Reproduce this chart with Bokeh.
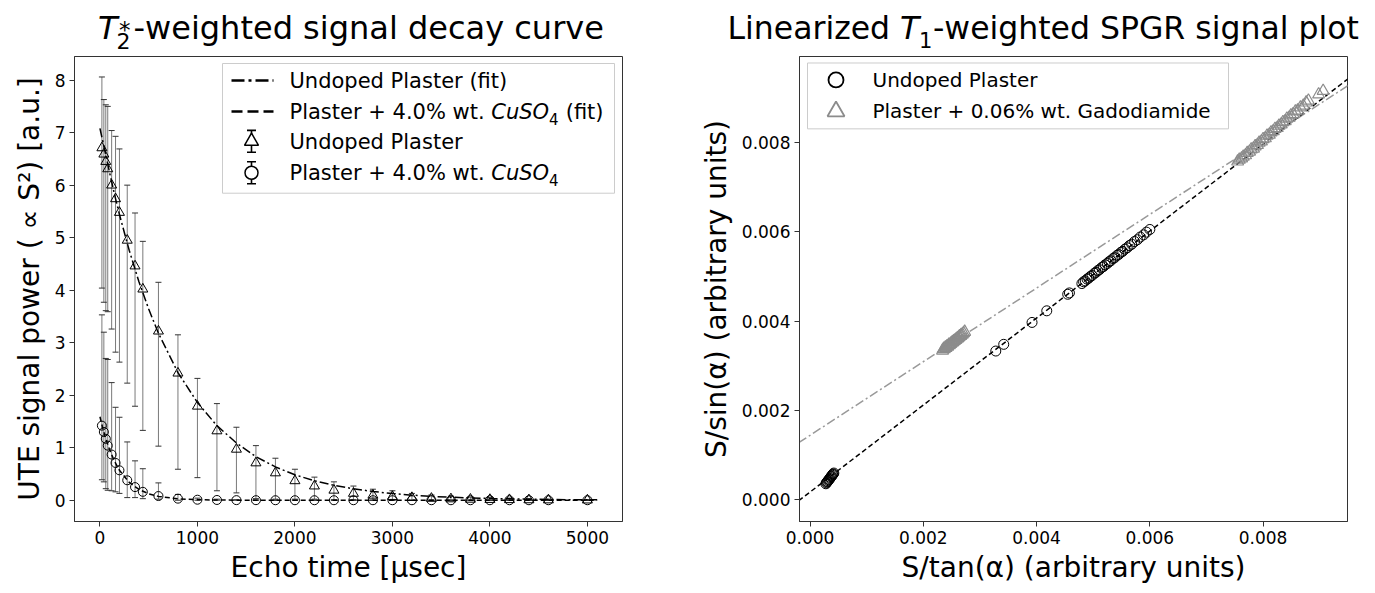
from bokeh.plotting import figure
from bokeh.layouts import row, column
from bokeh.models import (ColumnDataSource, Whisker, TeeHead, FixedTicker, PrintfTickFormatter, Range1d)
from bokeh.core.properties import value
from bokeh.embed import file_html
from bokeh.resources import INLINE

FONT = "DejaVu Sans"

# ---------------- Left panel data (T2* decay) ----------------
echo_time = [20, 40, 60, 80, 120, 160, 200, 280, 360, 440, 600, 800, 1000, 1200, 1400, 1600,
             1800, 2000, 2200, 2400, 2600, 2800, 3000, 3200, 3400, 3600, 3800, 4000, 4200, 4400, 4600, 5000]
undoped_mean = [6.71, 6.59, 6.45, 6.31, 6.00, 5.74, 5.48, 4.95, 4.46, 4.02, 3.22, 2.42, 1.79, 1.32, 0.97, 0.71,
                0.52, 0.37, 0.27, 0.19, 0.13, 0.095, 0.07, 0.05, 0.035, 0.025, 0.018, 0.013, 0.010, 0.007, 0.005, 0.003]
undoped_upper = [8.06, 7.63, 7.53, 7.50, 7.04, 6.93, 6.69, 6.00, 5.47, 4.93, 4.15, 3.15, 2.32, 1.84, 1.39, 1.04,
                 0.80, 0.59, 0.44, 0.35, 0.27, 0.21, 0.18, 0.13, 0.10, 0.08, 0.06, 0.05, 0.04, 0.03, 0.02, 0.01]
undoped_lower = [4.04, 3.77, 3.61, 3.59, 3.26, 2.82, 2.63, 2.23, 1.79, 1.33, 1.03, 0.59, 0.43, 0.18, 0.14, 0.03,
                 0.02, 0.02, 0.02, 0.01, 0.01, 0.0, 0.0, 0.0, 0.0, 0.0, 0.0, 0.0, 0.0, 0.0, 0.0, 0.0]
cuso4_mean = [1.42, 1.30, 1.17, 1.04, 0.87, 0.71, 0.57, 0.38, 0.25, 0.16, 0.08, 0.03, 0.01, 0.005, 0.002, 0.001,
              0.0, 0.0, 0.0, 0.0, 0.0, 0.0, 0.0, 0.0, 0.0, 0.0, 0.0, 0.0, 0.0, 0.0, 0.0, 0.0]
cuso4_upper = [3.53, 3.20, 2.70, 2.68, 2.24, 1.77, 1.58, 1.11, 0.75, 0.60, 0.33, 0.11, 0.04, 0.02, 0.01, 0.005,
               0.0, 0.0, 0.0, 0.0, 0.0, 0.0, 0.0, 0.0, 0.0, 0.0, 0.0, 0.0, 0.0, 0.0, 0.0, 0.0]
cuso4_lower = [0.39, 0.35, 0.22, 0.19, 0.18, 0.16, 0.13, 0.05, 0.05, 0.03, 0.02, 0.0, 0.0, 0.0, 0.0, 0.0,
               0.0, 0.0, 0.0, 0.0, 0.0, 0.0, 0.0, 0.0, 0.0, 0.0, 0.0, 0.0, 0.0, 0.0, 0.0, 0.0]

fit_undoped_t = [0, 50, 100, 150, 200, 300, 400, 500, 600, 800, 1000, 1200, 1400, 1600, 1800, 2000, 2200,
                 2400, 2600, 2800, 3000, 3200, 3400, 3600, 3800, 4000, 4200, 4400, 4600, 4800, 5100]
fit_undoped_y = [7.08, 6.66, 6.23, 5.82, 5.44, 4.76, 4.16, 3.64, 3.18, 2.43, 1.86, 1.42, 1.09, 0.83, 0.635, 0.485,
                 0.37, 0.285, 0.218, 0.167, 0.127, 0.097, 0.074, 0.057, 0.044, 0.033, 0.026, 0.020, 0.015, 0.011, 0.008]
fit_cuso4_t = [0, 25, 50, 75, 100, 150, 200, 300, 400, 500, 600, 800, 1000, 1200, 1500, 2000, 3000, 4000, 5100]
fit_cuso4_y = [1.59, 1.40, 1.23, 1.09, 0.955, 0.74, 0.57, 0.34, 0.205, 0.122, 0.073, 0.026, 0.0094, 0.0034,
               0.0007, 0.0, 0.0, 0.0, 0.0]

left_xticks = [0, 1000, 2000, 3000, 4000, 5000]
left_yticks = [0, 1, 2, 3, 4, 5, 6, 7, 8]

# ---------------- Right panel data (linearized SPGR) ----------------
undoped_s_tan = [0.00028, 0.00029, 0.00030, 0.00031, 0.00032, 0.00033, 0.00034, 0.00035, 0.00036, 0.00037,
                 0.00038, 0.00039, 0.00040, 0.00041, 0.00042,
                 0.00328, 0.00342, 0.00392, 0.00418, 0.00455, 0.00458,
                 0.00480, 0.00483, 0.00486, 0.00489, 0.00492, 0.00495, 0.00498, 0.00502, 0.00505, 0.00508,
                 0.00511, 0.00515, 0.00518, 0.00521, 0.00525, 0.00528, 0.00531, 0.00535, 0.00538, 0.00542,
                 0.00545, 0.00549, 0.00552, 0.00556, 0.00560, 0.00564, 0.00568, 0.00573, 0.00578, 0.00583,
                 0.00589, 0.00594, 0.00600]
undoped_s_sin = [0.00036, 0.00038, 0.00040, 0.00041, 0.00043, 0.00045, 0.00046, 0.00048, 0.00050, 0.00052,
                 0.00053, 0.00055, 0.00057, 0.00058, 0.00060,
                 0.00333, 0.00348, 0.00397, 0.00423, 0.00460, 0.00463,
                 0.00484, 0.00488, 0.00490, 0.00494, 0.00496, 0.00500, 0.00502, 0.00507, 0.00509, 0.00513,
                 0.00515, 0.00520, 0.00522, 0.00526, 0.00529, 0.00533, 0.00535, 0.00540, 0.00542, 0.00547,
                 0.00549, 0.00554, 0.00556, 0.00561, 0.00564, 0.00569, 0.00572, 0.00578, 0.00582, 0.00588,
                 0.00593, 0.00599, 0.00605]
gado_s_tan = [0.00234, 0.00236, 0.00237, 0.00239, 0.00240, 0.00242, 0.00243, 0.00245, 0.00246, 0.00248,
              0.00249, 0.00251, 0.00252, 0.00254, 0.00255, 0.00257, 0.00258, 0.00260, 0.00261, 0.00263,
              0.00264, 0.00266, 0.00267, 0.00269, 0.00271, 0.00273,
              0.00755, 0.00758, 0.00762, 0.00765, 0.00769, 0.00772, 0.00776, 0.00779, 0.00783, 0.00786,
              0.00790, 0.00793, 0.00797, 0.00800, 0.00804, 0.00807, 0.00811, 0.00814, 0.00818, 0.00821,
              0.00825, 0.00828, 0.00832, 0.00835, 0.00839, 0.00842, 0.00846, 0.00849, 0.00853, 0.00857,
              0.00861, 0.00866, 0.00871, 0.00876, 0.00880, 0.00898, 0.00906]
gado_s_sin = [0.00334, 0.00338, 0.00337, 0.00341, 0.00340, 0.00344, 0.00343, 0.00347, 0.00346, 0.00349,
              0.00350, 0.00352, 0.00353, 0.00355, 0.00356, 0.00358, 0.00359, 0.00361, 0.00362, 0.00364,
              0.00366, 0.00367, 0.00369, 0.00370, 0.00373, 0.00376,
              0.00757, 0.00761, 0.00764, 0.00768, 0.00771, 0.00776, 0.00779, 0.00784, 0.00786, 0.00791,
              0.00794, 0.00799, 0.00802, 0.00807, 0.00809, 0.00815, 0.00817, 0.00822, 0.00825, 0.00830,
              0.00832, 0.00837, 0.00840, 0.00845, 0.00847, 0.00853, 0.00855, 0.00860, 0.00863, 0.00869,
              0.00871, 0.00878, 0.00882, 0.00889, 0.00893, 0.00907, 0.00915]
undoped_fit_x = [-0.0002, 0.0095]
undoped_fit_y = [-0.00002, 0.00942]
gado_fit_x = [-0.0002, 0.0095]
gado_fit_y = [0.00128, 0.00927]

right_ticks = [0.0, 0.002, 0.004, 0.006, 0.008]

# ---------------- helpers ----------------
STRIP_H = 53
BASE_SHIFT = 0.35   # empirical correction of text placement (fraction of font size)


def style_axes(p):
    p.outline_line_color = "#333333"
    p.outline_line_width = 1
    p.xgrid.visible = False
    p.ygrid.visible = False
    p.background_fill_color = "white"
    p.border_fill_color = "white"
    for ax in (p.xaxis[0], p.yaxis[0]):
        ax.axis_line_color = "#333333"
        ax.major_tick_line_color = "#333333"
        ax.major_tick_out = 5
        ax.major_tick_in = 0
        ax.minor_tick_out = 0
        ax.minor_tick_in = 0
        ax.major_label_text_font = FONT
        ax.major_label_text_font_size = "17px"
        ax.major_label_text_color = "black"
        ax.major_label_standoff = 4
        ax.axis_label_text_font = FONT
        ax.axis_label_text_font_size = "28px"
        ax.axis_label_text_font_style = "normal"
        ax.axis_label_text_color = "black"


def make_conv(left, top, w, h, xr, yr):
    # page pixel (px, py) -> data coordinates of a frame
    def conv(px, py):
        x = xr[0] + (px - left) / w * (xr[1] - xr[0])
        y = yr[1] - (py - top) / h * (yr[1] - yr[0])
        return x, y
    return conv


def put_text(p, conv, px, py, text, size, style="normal", color="black"):
    fs = float(size.replace("px", ""))
    x, y = conv(px, py - BASE_SHIFT * fs)
    p.text(x=[x], y=[y], text=[text], text_font=value(FONT), text_font_size=value(size),
           text_font_style=style, text_color=color, text_align="left", text_baseline="alphabetic")


def seg(p, conv, a, b, color="black", width=1.0, dash="solid"):
    (x0, y0), (x1, y1) = conv(*a), conv(*b)
    p.segment(x0=[x0], y0=[y0], x1=[x1], y1=[y1], line_color=color, line_width=width, line_dash=dash)


def box(p, conv, l, t, r, b):
    (x0, y0), (x1, y1) = conv(l, t), conv(r, b)
    p.quad(left=[x0], right=[x1], top=[y0], bottom=[y1], fill_color="white", fill_alpha=0.8,
           line_color="#cccccc", line_width=1)


def marker(p, conv, px, py, kind, size, color="black", width=1.5, fill="white"):
    x, y = conv(px, py)
    p.scatter([x], [y], marker=kind, size=size, fill_color=fill, line_color=color, line_width=width)


def strip(width):
    s = figure(width=width, height=STRIP_H, x_range=Range1d(0, width), y_range=Range1d(STRIP_H, 0),
               output_backend="svg", toolbar_location=None, min_border=0, title=None,
               x_axis_location=None, y_axis_location=None)
    s.xgrid.visible = False
    s.ygrid.visible = False
    s.outline_line_color = None
    s.background_fill_color = "white"
    s.border_fill_color = "white"
    return s


def strip_text(s, x, y, text, size, style="normal"):
    fs = float(size.replace("px", ""))
    s.text(x=[x], y=[y - BASE_SHIFT * fs], text=[text], text_font=value(FONT), text_font_size=value(size),
           text_font_style=style, text_color="black", text_align="left", text_baseline="alphabetic")

# ---------------- Title strips ----------------
t1 = strip(690)
strip_text(t1, 97.5, 38.5, "T", "32px", "italic")
strip_text(t1, 116, 48, "2", "22px")
strip_text(t1, 118.5, 38, "*", "23px")
strip_text(t1, 133, 38.5, "-weighted signal decay curve", "32px")

t2 = strip(685)
strip_text(t2, 727 - 690, 38.5, "Linearized", "31.5px")
strip_text(t2, 899.5 - 690, 38.5, "T", "31.5px", "italic")
strip_text(t2, 918.5 - 690, 47, "1", "21px")
strip_text(t2, 932.5 - 690, 38.5, "-weighted SPGR signal plot", "31.5px")

# ---------------- Left figure ----------------
LX = (-261, 5360)
LY = (-0.405, 8.45)
p1 = figure(width=690, height=593 - STRIP_H, x_range=Range1d(*LX), y_range=Range1d(*LY),
            output_backend="svg", toolbar_location=None, title=None,
            min_border_left=74, min_border_right=68, min_border_top=55 - STRIP_H, min_border_bottom=72)
style_axes(p1)
p1.xaxis.ticker = FixedTicker(ticks=left_xticks)
p1.yaxis.ticker = FixedTicker(ticks=left_yticks)
p1.xaxis.axis_label = "Echo time [μsec]"
p1.yaxis.axis_label = "UTE signal power ( ∝ S²) [a.u.]"
p1.xaxis.axis_label_standoff = 4
p1.yaxis.axis_label_standoff = 6

p1.line(fit_undoped_t, fit_undoped_y, line_color="black", line_width=1.5, line_dash="9 3 2 3")
p1.line(fit_cuso4_t, fit_cuso4_y, line_color="black", line_width=1.5, line_dash="5 3")

src_u = ColumnDataSource(dict(t=echo_time, m=undoped_mean, up=undoped_upper, lo=undoped_lower))
src_c = ColumnDataSource(dict(t=echo_time, m=cuso4_mean, up=cuso4_upper, lo=cuso4_lower))
for src in (src_u, src_c):
    p1.add_layout(Whisker(base="t", upper="up", lower="lo", source=src, dimension="height",
                          line_color="#7a7a7a", line_width=1,
                          upper_head=TeeHead(size=6, line_color="#333333", line_width=1),
                          lower_head=TeeHead(size=6, line_color="#333333", line_width=1)))
p1.scatter("t", "m", source=src_u, marker="triangle", size=10, fill_color=None,
           line_color="black", line_width=1)
p1.scatter("t", "m", source=src_c, marker="circle", size=9, fill_color=None,
           line_color="black", line_width=1)

# legend (drawn in page pixels inside the frame)
c1 = make_conv(74, 55, 548, 466, LX, LY)
box(p1, c1, 222, 62, 614, 192)
seg(p1, c1, (231, 79), (273, 79), width=2.5, dash="13 4 3 4")
seg(p1, c1, (231, 110), (273, 110), width=2.5, dash="11 5")
for cy, kind in ((140, "triangle"), (171.5, "circle")):
    seg(p1, c1, (251, cy - 11), (251, cy + 11), width=1.6)
    seg(p1, c1, (246.5, cy - 11), (255.5, cy - 11), width=1.6)
    seg(p1, c1, (246.5, cy + 11), (255.5, cy + 11), width=1.6)
    marker(p1, c1, 251, cy, kind, 14 if kind == "triangle" else 13)
put_text(p1, c1, 289, 87, "Undoped Plaster (fit)", "21px")
put_text(p1, c1, 289, 118, "Plaster + 4.0% wt.", "21px")
put_text(p1, c1, 490.8, 118, "CuSO", "21px", "italic")
put_text(p1, c1, 548.6, 123, "4", "15px")
put_text(p1, c1, 565.2, 118, "(fit)", "21px")
put_text(p1, c1, 289, 148, "Undoped Plaster", "21px")
put_text(p1, c1, 289, 179.5, "Plaster + 4.0% wt.", "21px")
put_text(p1, c1, 490.8, 179.5, "CuSO", "21px", "italic")
put_text(p1, c1, 548.6, 184.5, "4", "15px")

# ---------------- Right figure ----------------
RX = (-0.000186, 0.00949)
RY = (-0.000484, 0.00992)
p2 = figure(width=685, height=593 - STRIP_H, x_range=Range1d(*RX), y_range=Range1d(*RY),
            output_backend="svg", toolbar_location=None, title=None,
            min_border_left=109, min_border_right=28, min_border_top=56 - STRIP_H, min_border_bottom=71)
style_axes(p2)
p2.xaxis.ticker = FixedTicker(ticks=right_ticks)
p2.yaxis.ticker = FixedTicker(ticks=right_ticks)
p2.xaxis.formatter = PrintfTickFormatter(format="%.3f")
p2.yaxis.formatter = PrintfTickFormatter(format="%.3f")
p2.xaxis.axis_label = "S/tan(α) (arbitrary units)"
p2.yaxis.axis_label = "S/sin(α) (arbitrary units)"
p2.xaxis.axis_label_standoff = 4
p2.yaxis.axis_label_standoff = 6

p2.line(gado_fit_x, gado_fit_y, line_color="#999999", line_width=1.5, line_dash="9 3 2 3")
p2.line(undoped_fit_x, undoped_fit_y, line_color="black", line_width=1.5, line_dash="5 3")
p2.scatter(undoped_s_tan, undoped_s_sin, marker="circle", size=10, fill_color=None,
           line_color="black", line_width=1)
p2.scatter(gado_s_tan, gado_s_sin, marker="triangle", size=12, fill_color=None,
           line_color="#8c8c8c", line_width=1.2)

c2 = make_conv(799, 56, 548, 466, RX, RY)
box(p2, c2, 807, 62.5, 1228, 128.5)
marker(p2, c2, 835.5, 79.5, "circle", 15, color="black", width=1.8, fill=None)
marker(p2, c2, 835.5, 111, "triangle", 17, color="#8c8c8c", width=1.8, fill=None)
put_text(p2, c2, 872, 87, "Undoped Plaster", "20px")
put_text(p2, c2, 872, 118, "Plaster + 0.06% wt. Gadodiamide", "20px")

layout = column(row(t1, t2), row(p1, p2))
open("out.html", "w").write(file_html(layout, INLINE))
